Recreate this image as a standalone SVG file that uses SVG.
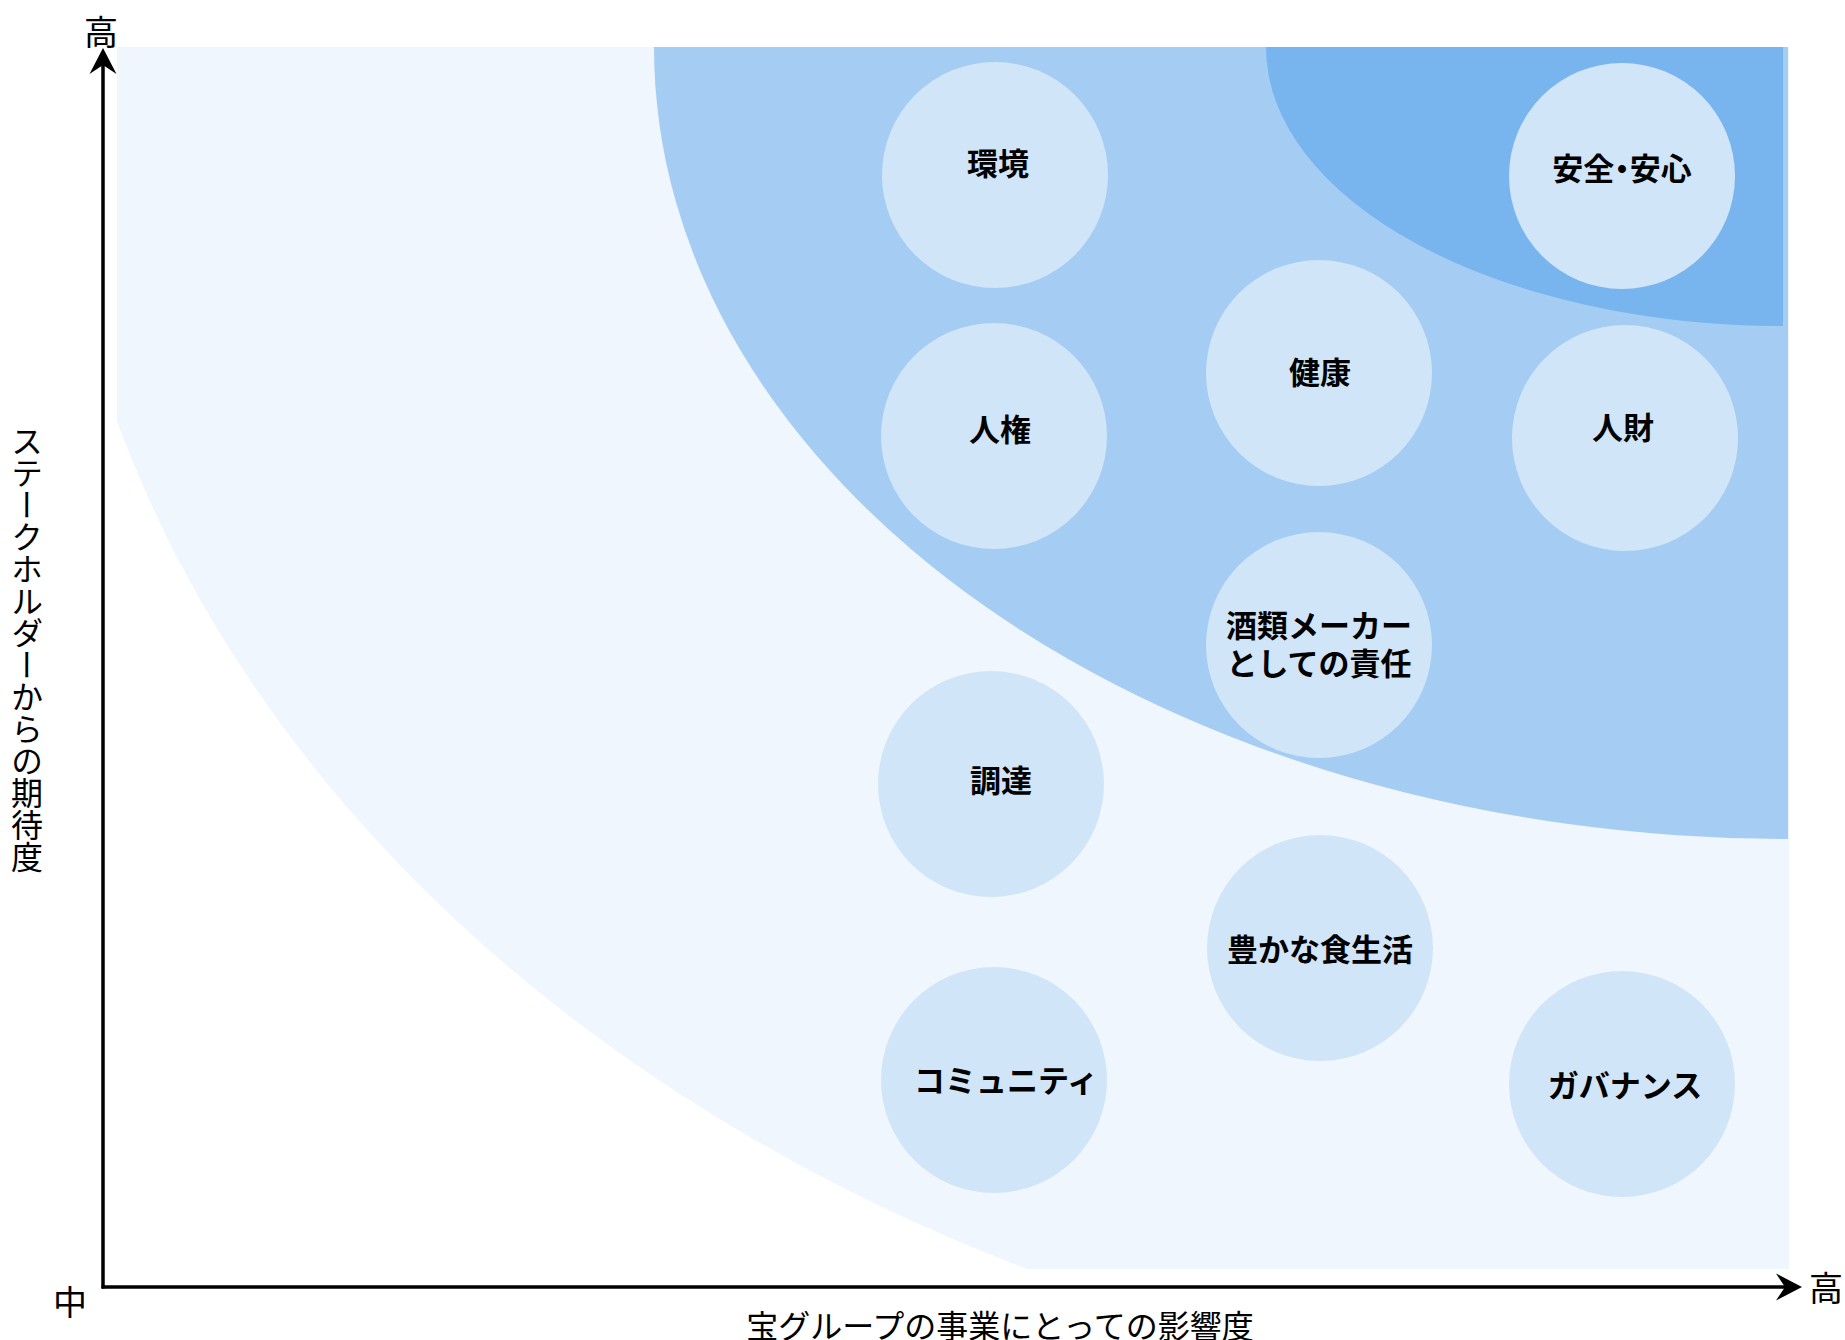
<svg xmlns="http://www.w3.org/2000/svg" width="1845" height="1340" viewBox="0 0 1845 1340">
<defs>
<style>
.node{fill:#D1E5F8;}
.lbl{font-family:"Noto Sans CJK JP","Noto Sans",sans-serif;font-weight:700;font-size:31px;fill:#000;text-anchor:middle;dominant-baseline:central;}
.ax{font-family:"Noto Sans CJK JP","Noto Sans",sans-serif;font-weight:400;fill:#000;}
.axis{stroke:#000;stroke-width:3.5;fill:none;}
</style>
<marker id="arr" markerUnits="userSpaceOnUse" markerWidth="32" markerHeight="32" viewBox="-30 -16 32 32" refX="-17" refY="0" orient="auto">
<path d="M0,0 L-26,-13.5 L-17,0 L-26,13.5 Z" fill="#000"/>
</marker>
</defs>
<rect width="1845" height="1340" fill="#fff"/>
<g id="zones">
<path d="M117,47 H1789 V1269 H1027 A1739,1359 0 0 1 117,421 Z" fill="#F0F6FD"/>
<path d="M654,47 H1788 V839 A1134,792 0 0 1 654,47 Z" fill="#A5CDF3"/>
<path d="M1266,47 H1783 V326 A517,279 0 0 1 1266,47 Z" fill="#78B4EE"/>
</g>
<g id="connectors">
<path class="axis" d="M103,1288.5 V65" marker-end="url(#arr)"/>
<path class="axis" d="M101.5,1287 H1785" marker-end="url(#arr)"/>
</g>
<g id="axis-labels">
<text class="ax" x="101" y="30" font-size="34" text-anchor="middle" dominant-baseline="central">高</text>
<text class="ax" x="70" y="1300" font-size="34" text-anchor="middle" dominant-baseline="central">中</text>
<text class="ax" x="1826" y="1286" font-size="34" text-anchor="middle" dominant-baseline="central">高</text>
<text class="ax" x="1000" y="1338" font-size="32" text-anchor="middle">宝グループの事業にとっての影響度</text>
<text class="ax" x="27" y="649" font-size="32" text-anchor="middle" style="writing-mode:vertical-rl">ステークホルダーからの期待度</text>
</g>
<g id="n-kankyo"><circle class="node" cx="995" cy="175" r="113"/><text class="lbl" x="998" y="161">環境</text></g>
<g id="n-anzen"><circle class="node" cx="1622" cy="176" r="113"/><text class="lbl" x="1622" y="166" style="font-feature-settings:'palt'">安全・安心</text></g>
<g id="n-kenko"><circle class="node" cx="1319" cy="373" r="113"/><text class="lbl" x="1320" y="370">健康</text></g>
<g id="n-jinken"><circle class="node" cx="994" cy="436" r="113"/><text class="lbl" x="1000" y="427">人権</text></g>
<g id="n-jinzai"><circle class="node" cx="1625" cy="438" r="113"/><text class="lbl" x="1623" y="425">人財</text></g>
<g id="n-shurui"><circle class="node" cx="1319" cy="645" r="113"/><text class="lbl"><tspan x="1319" y="623">酒類メーカー</tspan><tspan x="1319" y="661">としての責任</tspan></text></g>
<g id="n-chotatsu"><circle class="node" cx="991" cy="784" r="113"/><text class="lbl" x="1001" y="778">調達</text></g>
<g id="n-shoku"><circle class="node" cx="1320" cy="948" r="113"/><text class="lbl" x="1320" y="947">豊かな食生活</text></g>
<g id="n-community"><circle class="node" cx="994" cy="1080" r="113"/><text class="lbl" x="1006" y="1078">コミュニティ</text></g>
<g id="n-governance"><circle class="node" cx="1622" cy="1084" r="113"/><text class="lbl" x="1625" y="1083">ガバナンス</text></g>
</svg>
